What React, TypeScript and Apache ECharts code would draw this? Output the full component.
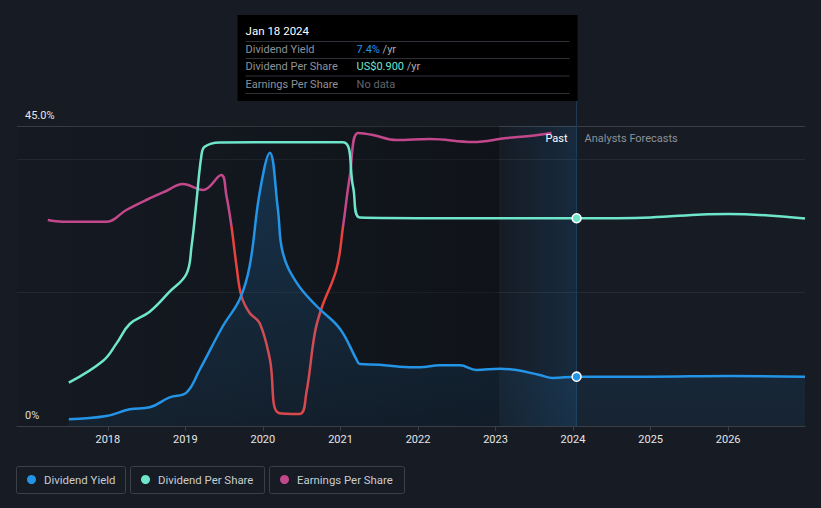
import React, { useEffect, useRef } from "react";
import * as echarts from "echarts";

const yieldDates = [
  "2017-07-01", "2017-12-25", "2018-04-14", "2018-07-17", "2018-10-19", "2019-01-06",
  "2019-03-09", "2019-06-27", "2019-09-14", "2019-10-31", "2019-12-17", "2020-02-03",
  "2020-03-12", "2020-04-04", "2020-06-08", "2020-09-10", "2020-12-29", "2021-03-17",
  "2021-04-02", "2021-07-05", "2021-10-07", "2022-01-10", "2022-04-14", "2022-07-17",
  "2022-10-03", "2023-01-22", "2023-04-10", "2023-07-28", "2023-09-28", "2024-01-18",
  "2025-01-01", "2026-01-01", "2026-12-29",
];
const yieldValues = [
  1.0, 1.5, 2.5, 2.8, 4.3, 5.0,
  8.4, 15, 19, 24, 35, 41,
  32.5, 26, 21.5, 18, 14.6, 10,
  9.3, 9.2, 8.9, 8.8, 9.1, 9.1,
  8.4, 8.6, 8.4, 7.65, 7.2, 7.4,
  7.4, 7.5, 7.4,
];

const dpsDates = [
  "2017-07-01", "2017-12-10", "2018-02-11", "2018-04-14", "2018-07-17", "2018-10-19",
  "2019-01-06", "2019-01-30", "2019-02-23", "2019-03-17", "2019-04-02", "2019-06-12",
  "2021-01-13", "2021-03-01", "2021-04-02", "2022-06-01", "2023-06-01", "2024-01-18",
  "2025-01-01", "2025-09-01", "2026-01-01", "2026-12-29",
];
const dpsValues = [
  0.188, 0.283, 0.358, 0.442, 0.495, 0.582,
  0.659, 0.777, 0.979, 1.167, 1.21, 1.229,
  1.23, 1.037, 0.903, 0.9, 0.9, 0.9,
  0.904, 0.917, 0.919, 0.899,
];

const epsDates = [
  "2017-03-24", "2017-06-03", "2017-12-25", "2018-03-29", "2018-07-01", "2018-10-03",
  "2018-12-20", "2019-03-25", "2019-06-19", "2019-07-13", "2019-08-06", "2019-08-30",
  "2019-09-22", "2019-10-31", "2019-12-17", "2020-02-03", "2020-03-16", "2020-06-23",
  "2020-07-24", "2020-09-02", "2020-10-04", "2020-12-13", "2021-01-13", "2021-02-14",
  "2021-03-25", "2021-06-03", "2021-09-22", "2022-02-26", "2022-09-17", "2023-02-22",
  "2023-06-11", "2023-09-22",
];
const epsValues = [
  0.06, 0.043, 0.043, 0.16, 0.26, 0.35,
  0.42, 0.36, 0.51, 0.31, 0.0, -0.4,
  -0.7, -0.87, -0.97, -1.33, -1.87, -1.88,
  -1.67, -1.07, -0.82, -0.43, 0.0, 0.5,
  0.93, 0.91, 0.86, 0.87, 0.84, 0.88,
  0.9, 0.93,
];

const tickYears = [2018, 2019, 2020, 2021, 2022, 2023, 2024, 2025, 2026];
const TODAY = "2024-01-18";
const HIGHLIGHT_START = "2023-01-18";
const AXIS_MIN = "2016-10-30";
const AXIS_MAX = "2026-12-29";
const legendNames = ["Dividend Yield", "Dividend Per Share", "Earnings Per Share"];

const BLUE = "#2394e6";
const TEAL = "#6fe6cc";
const PINK = "#c2488b";
const RED = "#e8423f";
const BG = "#161b24";
const FONT = "Roboto, 'Noto Sans', sans-serif";

const ts = (d: string) => new Date(d + "T00:00:00Z").getTime();

export default function App() {
  const ref = useRef<HTMLDivElement>(null);
  useEffect(() => {
    const chart = echarts.init(ref.current!, null, { renderer: "svg" });
    const toPts = (dates: string[], vals: number[]) =>
      dates.map((d, i) =>
        d === TODAY
          ? { value: [ts(d), vals[i]], symbol: "circle", symbolSize: 9 }
          : [ts(d), vals[i]]
      );
    const yearTicks = tickYears.map((y) => ts(y + "-01-01"));
    const option: any = {
      animation: false,
      backgroundColor: BG,
      textStyle: { fontFamily: FONT },
      grid: { left: 17, right: 16, top: 126, bottom: 82 },
      xAxis: {
        type: "value",
        min: ts(AXIS_MIN),
        max: ts(AXIS_MAX),
        axisLine: { show: true, lineStyle: { color: "#3a3f47", width: 1 } },
        axisTick: {
          show: true,
          length: 5,
          lineStyle: { color: "#3a3f47" },
          customValues: yearTicks,
        },
        axisLabel: {
          color: "#e6e6e6",
          fontSize: 11,
          margin: 8,
          fontFamily: FONT,
          customValues: yearTicks,
          formatter: (v: number) => String(new Date(v).getUTCFullYear()),
        },
        splitLine: { show: false },
      },
      yAxis: [
        {
          type: "value",
          min: 0,
          max: 45,
          interval: 20,
          axisLine: { show: false },
          axisTick: { show: false },
          axisLabel: {
            inside: true,
            verticalAlign: "bottom",
            margin: 8,
            padding: [0, 0, 5, 0],
            color: "#e6e6e6",
            fontSize: 11,
            fontFamily: FONT,
            formatter: (v: number) => (v === 45 ? "45.0%" : v === 0 ? "0%" : ""),
          },
          splitLine: {
            show: true,
            lineStyle: { color: ["#3a3f47", "#252a32", "#252a32", "#3a3f47"], width: 1 },
          },
        },
        { type: "value", min: 0, max: 1.3, show: false, splitLine: { show: false } },
        { type: "value", min: -2, max: 1, show: false, splitLine: { show: false } },
      ],
      series: [
        {
          type: "line",
          data: [[ts(AXIS_MIN), 0]],
          z: 0,
          silent: true,
          symbol: "none",
          lineStyle: { opacity: 0 },
          markArea: {
            silent: true,
            data: [
              [
                {
                  xAxis: ts(AXIS_MIN),
                  itemStyle: {
                    color: new echarts.graphic.LinearGradient(0, 0, 1, 0, [
                      { offset: 0, color: "rgba(0,0,0,0.05)" },
                      { offset: 1, color: "rgba(0,0,0,0.3)" },
                    ]),
                  },
                },
                { xAxis: ts(HIGHLIGHT_START) },
              ],
              [
                {
                  xAxis: ts(HIGHLIGHT_START),
                  itemStyle: {
                    color: new echarts.graphic.LinearGradient(0, 0, 1, 0, [
                      { offset: 0, color: "rgba(30,120,190,0.0)" },
                      { offset: 1, color: "rgba(30,120,190,0.17)" },
                    ]),
                  },
                },
                { xAxis: ts(TODAY) },
              ],
            ],
          },
        },
        {
          name: legendNames[0],
          type: "line",
          yAxisIndex: 0,
          data: toPts(yieldDates, yieldValues),
          smooth: 0.4,
          symbol: "none",
          z: 4,
          lineStyle: { color: BLUE, width: 2.5 },
          itemStyle: { color: BLUE, borderColor: "#ffffff", borderWidth: 1.5 },
          areaStyle: {
            color: new echarts.graphic.LinearGradient(0, 0, 0, 1, [
              { offset: 0, color: "rgba(35,148,230,0.32)" },
              { offset: 1, color: "rgba(35,148,230,0.1)" },
            ]),
          },
        },
        {
          name: legendNames[1],
          type: "line",
          yAxisIndex: 1,
          data: toPts(dpsDates, dpsValues),
          smooth: 0.4,
          symbol: "none",
          z: 4,
          lineStyle: { color: TEAL, width: 2.5 },
          itemStyle: { color: TEAL, borderColor: "#ffffff", borderWidth: 1.5 },
        },
        {
          name: legendNames[2],
          type: "line",
          yAxisIndex: 2,
          data: toPts(epsDates, epsValues),
          smooth: 0.4,
          symbol: "none",
          z: 3,
          lineStyle: { width: 2.5, color: PINK },
        },
      ],
    };
    chart.setOption(option);

    const xT = chart.convertToPixel({ xAxisIndex: 0 }, ts(TODAY)) as number;
    const yBottom = chart.convertToPixel({ yAxisIndex: 0 }, 0) as number;
    const epsTop = chart.convertToPixel({ yAxisIndex: 2 }, 1) as number;
    const epsBot = chart.convertToPixel({ yAxisIndex: 2 }, -2) as number;
    const epsZero = chart.convertToPixel({ yAxisIndex: 2 }, 0) as number;
    const f = (epsZero - epsTop) / (epsBot - epsTop);

    const legendBoxes = [
      { x: 16.5, w: 109, color: BLUE },
      { x: 130.5, w: 134, color: TEAL },
      { x: 269.5, w: 135, color: PINK },
    ];
    const graphic: any[] = [
      {
        type: "line",
        z: 1,
        shape: { x1: xT, y1: 101, x2: xT, y2: yBottom },
        style: { stroke: "#1f3f5a", lineWidth: 1 },
      },
      {
        type: "text",
        z: 10,
        x: xT - 9,
        y: 138,
        style: { text: "Past", fill: "#ffffff", font: `11px ${FONT}`, align: "right", verticalAlign: "middle" },
      },
      {
        type: "text",
        z: 10,
        x: xT + 8,
        y: 138,
        style: { text: "Analysts Forecasts", fill: "#8d9199", font: `11px ${FONT}`, align: "left", verticalAlign: "middle" },
      },
      {
        type: "rect",
        z: 20,
        shape: { x: xT - 339, y: 15, width: 340, height: 86 },
        style: { fill: "#000000" },
      },
      {
        type: "text",
        z: 21,
        x: xT - 331,
        y: 31,
        style: { text: "Jan 18 2024", fill: "#ffffff", font: `11.5px ${FONT}`, verticalAlign: "middle" },
      },
      ...[41.5, 58.5, 76, 93.5].map((y) => ({
        type: "line",
        z: 21,
        shape: { x1: xT - 331, y1: y, x2: xT - 7, y2: y },
        style: { stroke: "#2e3238", lineWidth: 1 },
      })),
      ...[
        { label: "Dividend Yield", val: "7.4%", col: BLUE, unit: " /yr", y: 49 },
        { label: "Dividend Per Share", val: "US$0.900", col: TEAL, unit: " /yr", y: 66.5 },
        { label: "Earnings Per Share", val: "No data", col: "#62666d", unit: "", y: 84.5 },
      ].flatMap((r) => [
        {
          type: "text",
          z: 21,
          x: xT - 331,
          y: r.y,
          style: { text: r.label, fill: "#8e9298", font: `11px ${FONT}`, verticalAlign: "middle" },
        },
        {
          type: "text",
          z: 21,
          x: xT - 220,
          y: r.y,
          style: {
            text: `{a|${r.val}}{b|${r.unit}}`,
            verticalAlign: "middle",
            rich: {
              a: { fill: r.col, font: `11px ${FONT}` },
              b: { fill: "#a9adb3", font: `11px ${FONT}` },
            },
          },
        },
      ]),
      ...legendBoxes.flatMap((b, i) => [
        {
          type: "rect",
          z: 5,
          shape: { x: b.x, y: 466.5, width: b.w, height: 27, r: 2 },
          style: { fill: "transparent", stroke: "#3b4048", lineWidth: 1 },
        },
        {
          type: "circle",
          z: 6,
          shape: { cx: b.x + 15, cy: 479.5, r: 4.5 },
          style: { fill: b.color },
        },
        {
          type: "text",
          z: 6,
          x: b.x + 27.5,
          y: 480,
          style: { text: legendNames[i], fill: "#c9ccd1", font: `11.4px ${FONT}`, verticalAlign: "middle" },
        },
      ]),
    ];
    chart.setOption({
      graphic,
      series: [
        {},
        {},
        {},
        {
          lineStyle: {
            width: 2.5,
            color: new echarts.graphic.LinearGradient(
              0, epsTop, 0, epsBot,
              [
                { offset: 0, color: PINK },
                { offset: f, color: PINK },
                { offset: f, color: RED },
                { offset: 1, color: RED },
              ],
              true
            ),
          },
        },
      ],
    });

    return () => chart.dispose();
  }, []);
  return (
    <div
      ref={ref}
      style={{ position: "fixed", left: 0, top: 0, width: 821, height: 508 }}
    />
  );
}
